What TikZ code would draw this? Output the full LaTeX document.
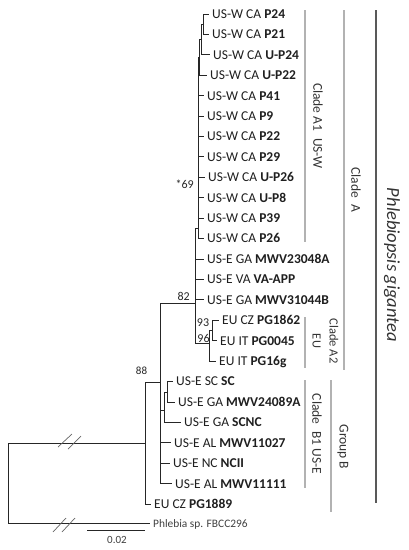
\documentclass[tikz,border=0pt]{standalone}
\usepackage{fontspec}
\setmainfont{Carlito}
\begin{document}
\begin{tikzpicture}[x=1pt,y=-1pt,
  leaf/.style={anchor=west, inner xsep=3.5pt, inner ysep=0pt, text height=8.7pt, text depth=0pt,
               font=\fontsize{13.5}{16}\selectfont, text=black!88},
  small/.style={anchor=west, inner xsep=3.5pt, inner ysep=0pt, text height=7.4pt, text depth=0pt,
               font=\fontsize{11.4}{13}\selectfont, text=black!75},
  supp/.style={font=\fontsize{12}{14}\selectfont, inner sep=0pt, text=black!85},
  branch/.style={draw=black!85, line width=0.9pt},
  cbar/.style={draw=black!30, line width=1.2pt},
  clab/.style={rotate=-90, inner sep=0pt, font=\fontsize{13.5}{17}\selectfont, text=black!80, align=center},
  brk/.style={draw=black!60, line width=0.7pt}
]
\useasboundingbox (0,0) rectangle (408,550);

% ---------- leaf labels ----------
\node[leaf] (lP24)  at (208.5,14.0)  {US-W CA \textbf{P24}};
\node[leaf] (lP21)  at (208.5,34.4)  {US-W CA \textbf{P21}};
\node[leaf] (lUP24) at (209.5,54.8)  {US-W CA \textbf{U-P24}};
\node[leaf] (lUP22) at (206.5,75.3)  {US-W CA \textbf{U-P22}};
\node[leaf] (lP41)  at (203.5,95.7)  {US-W CA \textbf{P41}};
\node[leaf] (lP9)   at (203.5,116.1) {US-W CA \textbf{P9}};
\node[leaf] (lP22)  at (203.5,136.5) {US-W CA \textbf{P22}};
\node[leaf] (lP29)  at (203.5,156.9) {US-W CA \textbf{P29}};
\node[leaf] (lUP26) at (204.5,177.4) {US-W CA \textbf{U-P26}};
\node[leaf] (lUP8)  at (203.5,197.8) {US-W CA \textbf{U-P8}};
\node[leaf] (lP39)  at (203.5,218.2) {US-W CA \textbf{P39}};
\node[leaf] (lP26)  at (203.5,238.6) {US-W CA \textbf{P26}};
\node[leaf] (lM23)  at (203.5,259.0) {US-E GA \textbf{MWV23048A}};
\node[leaf] (lVA)   at (203.5,279.5) {US-E VA \textbf{VA-APP}};
\node[leaf] (lM31)  at (203.5,299.9) {US-E GA \textbf{MWV31044B}};
\node[leaf] (lPG62) at (218.5,320.3) {EU CZ \textbf{PG1862}};
\node[leaf] (lPG45) at (216.5,340.7) {EU IT \textbf{PG0045}};
\node[leaf] (lPG16) at (215.5,361.1) {EU IT \textbf{PG16g}};
\node[leaf] (lSC)   at (172.5,381.6) {US-E SC \textbf{SC}};
\node[leaf] (lM24)  at (174.5,402.0) {US-E GA \textbf{MWV24089A}};
\node[leaf] (lSCNC) at (180.5,422.4) {US-E GA \textbf{SCNC}};
\node[leaf] (lM27)  at (170.5,442.8) {US-E AL \textbf{MWV11027}};
\node[leaf] (lNC)   at (169.5,463.2) {US-E NC \textbf{NCII}};
\node[leaf] (lM11)  at (171.5,483.7) {US-E AL \textbf{MWV11111}};
\node[leaf] (lPG89) at (150.5,504.1) {EU CZ \textbf{PG1889}};
\node[small] (lPhl) at (149.5,523.5) {Phlebia sp. FBCC296};

% ---------- internal nodes ----------
\coordinate (a12) at (203,24.2);
\coordinate (a3)  at (201,39.5);
\coordinate (a4)  at (199.5,57.4);
\coordinate (a5)  at (198,228);
\coordinate (aA)  at (195,303);
\coordinate (a6)  at (209,343);
\coordinate (a7)  at (212,330.5);
\coordinate (bB)  at (160,382);
\coordinate (bS)  at (164,410);
\coordinate (bT)  at (167,392);
\coordinate (r88) at (145,443);
\coordinate (root) at (8,483);

% ---------- branches ----------
\draw[branch] (a12) |- (lP24.west);
\draw[branch] (a12) |- (lP21.west);
\draw[branch] (a3) |- (a12);
\draw[branch] (a3) |- (lUP24.west);
\draw[branch] (a4) |- (a3);
\draw[branch] (a4) |- (lUP22.west);
\draw[branch] (a5) |- (a4);
\foreach \l in {lP41,lP9,lP22,lP29,lUP26,lUP8,lP39,lP26}
  \draw[branch] (a5) |- (\l.west);
\draw[branch] (aA) |- (a5);
\draw[branch] (aA) |- (lM23.west);
\draw[branch] (aA) |- (lVA.west);
\draw[branch] (aA) |- (lM31.west);
\draw[branch] (aA) |- (a6);
\draw[branch] (a6) |- (a7);
\draw[branch] (a6) |- (lPG16.west);
\draw[branch] (a7) |- (lPG62.west);
\draw[branch] (a7) |- (lPG45.west);
\draw[branch] (bB) |- (aA);
\draw[branch] (bB) |- (bS);
\draw[branch] (bB) |- (lM27.west);
\draw[branch] (bB) |- (lNC.west);
\draw[branch] (bB) |- (lM11.west);
\draw[branch] (bS) |- (bT);
\draw[branch] (bS) |- (lSCNC.west);
\draw[branch] (bT) |- (lSC.west);
\draw[branch] (bT) |- (lM24.west);
\draw[branch] (r88) |- (bB);
\draw[branch] (r88) |- (lPG89.west);
\draw[branch] (root) |- (r88);
\draw[branch] (root) |- (lPhl.west);

% ---------- break marks ----------
\draw[brk] (58,447) -- (72,434);
\draw[brk] (68,449) -- (81,436);
\draw[brk] (53,532) -- (66,518);
\draw[brk] (62,532) -- (75,518);

% ---------- support values ----------
\node[supp, anchor=east] (s69) at (194,184) {*69};
\node[supp, anchor=east] (s82) at (190,296) {82};
\node[supp] (s93) at (203,323) {93};
\node[supp] (s96) at (203.5,338) {96};
\node[supp, font=\fontsize{11}{13}\selectfont] (s88) at (141.5,371) {88};

% ---------- scale bar ----------
\coordinate (sb1) at (87,530);
\coordinate (sb2) at (145,530);
\draw[branch] (sb1) -- (sb2);
\node[supp, font=\fontsize{11}{13}\selectfont, text=black!75] (sbl) at (117,540) {0.02};

% ---------- clade bars ----------
\coordinate (cA1t) at (305,10);  \coordinate (cA1b) at (305,242);
\coordinate (cAt)  at (344,10);  \coordinate (cAb)  at (344,370);
\coordinate (cA2t) at (305,317); \coordinate (cA2b) at (305,368);
\coordinate (cB1t) at (305,380); \coordinate (cB1b) at (305,488);
\coordinate (cBt)  at (331,380); \coordinate (cBb)  at (331,512);
\coordinate (cPt)  at (376,10);  \coordinate (cPb)  at (376,503);
\draw[cbar] (cA1t) -- (cA1b);
\draw[cbar] (cAt) -- (cAb);
\draw[cbar] (cA2t) -- (cA2b);
\draw[cbar] (cB1t) -- (cB1b);
\draw[cbar] (cBt) -- (cBb);
\draw[draw=black!65, line width=1.3pt] (cPt) -- (cPb);

\node[clab] (tA1) at (318,126) {Clade A1\enspace US-W};
\node[clab] (tA)  at (356,190) {Clade\enspace A};
\node[clab, font=\fontsize{12.5}{17}\selectfont] (tA2) at (325.5,341) {Clade A2\\EU};
\node[clab] (tB1) at (317,434) {Clade\enspace B1 US-E};
\node[clab] (tB)  at (343,447) {Group B};
\node[clab, font=\fontsize{18.5}{22}\selectfont\itshape] (tP) at (392,265) {Phlebiopsis gigantea};
\end{tikzpicture}
\end{document}
